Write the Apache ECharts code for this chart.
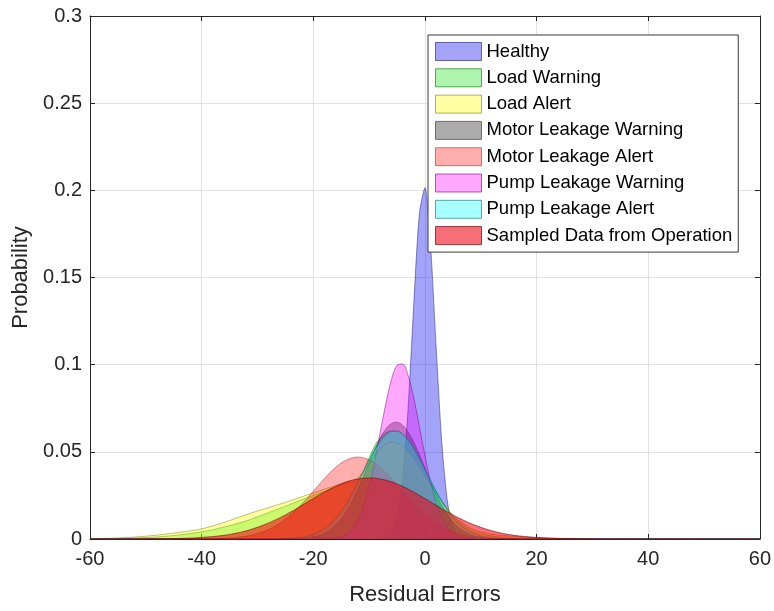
<!DOCTYPE html>
<html>
<head>
<meta charset="utf-8">
<script src="https://cdn.jsdelivr.net/npm/echarts@6/dist/echarts.min.js"></script>
<style>
  html, body { margin: 0; padding: 0; background: #ffffff; }
  #chart { width: 774px; height: 611px; }
</style>
</head>
<body>
<div id="chart"></div>
<script>
// Residual error values where each density curve is sampled
const residuals = [-60, -55, -50, -45, -40, -36, -32, -28, -25, -22,
                   -20, -18, -16, -14, -12, -10, -9, -8, -7, -6,
                   -5, -4, -3, -2, -1, 0, 1, 2, 3, 4,
                   5, 6, 8, 10, 12, 14, 16, 18, 20, 24,
                   28, 32, 36, 40, 50, 60];

const healthy = [0, 0, 0, 0, 0, 0, 0, 0, 0, 0,
                 0, 0, 0, 0, 0, 0, 0, 0.0001, 0.0006, 0.0030,
                 0.0113, 0.0332, 0.0758, 0.1347, 0.1865, 0.2015, 0.1687, 0.1103, 0.0562, 0.0222,
                 0.0069, 0.0017, 0.0001, 0, 0, 0, 0, 0, 0, 0,
                 0, 0, 0, 0, 0, 0];

const loadWarning = [0.0001, 0.0003, 0.0008, 0.0020, 0.0041, 0.0068, 0.0104, 0.0152, 0.0188, 0.0226,
                     0.0250, 0.0274, 0.0298, 0.0320, 0.0340, 0.0465, 0.0535, 0.0580, 0.0608, 0.0620,
                     0.0618, 0.0600, 0.0565, 0.0515, 0.0455, 0.0392, 0.0330, 0.0272, 0.0220, 0.0172,
                     0.0132, 0.0100, 0.0055, 0.0030, 0.0017, 0.0010, 0.0006, 0.0004, 0.0003, 0.0001,
                     0, 0, 0, 0, 0, 0];

const loadAlert = [0.0002, 0.0006, 0.0016, 0.0034, 0.0058, 0.0095, 0.0140, 0.0180, 0.0210, 0.0243,
                   0.0264, 0.0286, 0.0306, 0.0328, 0.0352, 0.0430, 0.0480, 0.0520, 0.0545, 0.0555,
                   0.0550, 0.0532, 0.0502, 0.0462, 0.0415, 0.0362, 0.0310, 0.0260, 0.0213, 0.0172,
                   0.0137, 0.0108, 0.0065, 0.0040, 0.0027, 0.0020, 0.0015, 0.0011, 0.0008, 0.0004,
                   0.0002, 0.0001, 0, 0, 0, 0];

const motorLeakWarning = [0, 0, 0, 0, 0, 0, 0, 0, 0, 0.0004,
                          0.0012, 0.0032, 0.0078, 0.0160, 0.0285, 0.0438, 0.0513, 0.0580, 0.0631, 0.0662,
                          0.0670, 0.0652, 0.0613, 0.0555, 0.0484, 0.0406, 0.0329, 0.0257, 0.0193, 0.0140,
                          0.0098, 0.0066, 0.0027, 0.0009, 0.0003, 0.0001, 0, 0, 0, 0,
                          0, 0, 0, 0, 0, 0];

const motorLeakAlert = [0, 0, 0, 0, 0.0001, 0.0004, 0.0016, 0.0054, 0.0113, 0.0202,
                        0.0274, 0.0347, 0.0411, 0.0454, 0.0470, 0.0454, 0.0436, 0.0411, 0.0381, 0.0347,
                        0.0311, 0.0274, 0.0237, 0.0202, 0.0169, 0.0140, 0.0113, 0.0090, 0.0071, 0.0054,
                        0.0041, 0.0031, 0.0016, 0.0008, 0.0004, 0.0002, 0.0001, 0, 0, 0,
                        0, 0, 0, 0, 0, 0];

const pumpLeakWarning = [0, 0, 0, 0, 0, 0, 0, 0, 0, 0,
                         0, 0.0001, 0.0006, 0.0029, 0.0109, 0.0301, 0.0447, 0.0613, 0.0778, 0.0915,
                         0.0996, 0.1004, 0.0936, 0.0809, 0.0647, 0.0479, 0.0328, 0.0208, 0.0122, 0.0066,
                         0.0033, 0.0016, 0.0003, 0, 0, 0, 0, 0, 0, 0,
                         0, 0, 0, 0, 0, 0];

const pumpLeakAlert = [0, 0, 0, 0, 0, 0, 0, 0, 0.0002, 0.0010,
                       0.0026, 0.0059, 0.0117, 0.0207, 0.0325, 0.0453, 0.0511, 0.0561, 0.0597, 0.0617,
                       0.0619, 0.0602, 0.0569, 0.0522, 0.0465, 0.0402, 0.0337, 0.0275, 0.0217, 0.0167,
                       0.0124, 0.0090, 0.0043, 0.0018, 0.0007, 0.0002, 0.0001, 0, 0, 0,
                       0, 0, 0, 0, 0, 0];

const sampledOperation = [0, 0, 0.0001, 0.0002, 0.0009, 0.0021, 0.0047, 0.0092, 0.0138, 0.0193,
                          0.0232, 0.0269, 0.0302, 0.0328, 0.0344, 0.0350, 0.0349, 0.0344, 0.0337, 0.0328,
                          0.0316, 0.0302, 0.0286, 0.0269, 0.0250, 0.0232, 0.0212, 0.0193, 0.0174, 0.0156,
                          0.0138, 0.0122, 0.0092, 0.0067, 0.0047, 0.0032, 0.0021, 0.0014, 0.0009, 0.0003,
                          0.0001, 0, 0, 0, 0, 0];

const seriesNames = ['Healthy', 'Load Warning', 'Load Alert', 'Motor Leakage Warning',
                     'Motor Leakage Alert', 'Pump Leakage Warning', 'Pump Leakage Alert',
                     'Sampled Data from Operation'];
const seriesValues = [healthy, loadWarning, loadAlert, motorLeakWarning,
                      motorLeakAlert, pumpLeakWarning, pumpLeakAlert, sampledOperation];

// Translucent fills and their darker outlines
const fills = ['rgba(0,0,240,0.36)', 'rgba(0,220,0,0.32)', 'rgba(255,255,0,0.36)', 'rgba(0,0,0,0.33)',
               'rgba(255,0,0,0.32)', 'rgba(255,0,255,0.35)', 'rgba(0,255,255,0.34)', 'rgba(240,0,15,0.57)'];
const edges = ['rgba(20,20,120,0.6)', 'rgba(0,110,0,0.6)', 'rgba(120,120,0,0.6)', 'rgba(40,40,40,0.6)',
               'rgba(140,40,40,0.55)', 'rgba(120,0,120,0.6)', 'rgba(0,110,110,0.6)', 'rgba(110,0,0,0.7)'];

const FONT = '"Liberation Sans", Arial, Helvetica, sans-serif';
const INK = '#262626';

const chart = echarts.init(document.getElementById('chart'), null, { renderer: 'canvas' });

const axisCommon = {
  axisLine: { show: true, onZero: false, lineStyle: { color: INK, width: 1 } },
  axisTick: { show: true, inside: true, length: 5, lineStyle: { color: INK } }
};

chart.setOption({
  animation: false,
  backgroundColor: '#ffffff',
  grid: { left: 90, right: 12, top: 16, bottom: 66 },
  xAxis: [
    Object.assign({
      type: 'value', min: -60, max: 60, interval: 20, position: 'bottom',
      name: 'Residual Errors', nameLocation: 'middle', nameGap: 45,
      nameTextStyle: { fontSize: 22, color: INK, fontFamily: FONT },
      axisLabel: { fontSize: 20, color: INK, margin: 10, fontFamily: FONT },
      splitLine: { show: true, lineStyle: { color: '#e2e2e2', width: 1 } }
    }, axisCommon),
    Object.assign({
      type: 'value', min: -60, max: 60, interval: 20, position: 'top',
      axisLabel: { show: false }, splitLine: { show: false }
    }, axisCommon)
  ],
  yAxis: [
    Object.assign({
      type: 'value', min: 0, max: 0.3, interval: 0.05, position: 'left',
      name: 'Probability', nameLocation: 'middle', nameGap: 56,
      nameTextStyle: { fontSize: 22, color: INK, fontFamily: FONT },
      axisLabel: { fontSize: 20, color: INK, margin: 8, fontFamily: FONT },
      splitLine: { show: true, lineStyle: { color: '#e2e2e2', width: 1 } }
    }, axisCommon),
    Object.assign({
      type: 'value', min: 0, max: 0.3, interval: 0.05, position: 'right',
      axisLabel: { show: false }, splitLine: { show: false }
    }, axisCommon)
  ],
  legend: {
    orient: 'vertical',
    left: 428, top: 35,
    padding: [7, 6, 7, 7],
    itemGap: 7.3,
    itemWidth: 46, itemHeight: 18,
    icon: 'rect',
    backgroundColor: '#ffffff',
    borderColor: '#3a3a3a', borderWidth: 1,
    textStyle: { fontSize: 18.5, color: '#000000', fontFamily: FONT },
    data: seriesNames.map((n, i) => ({
      name: n,
      itemStyle: { color: fills[i], borderColor: edges[i], borderWidth: 1 }
    }))
  },
  series: seriesNames.map((n, i) => ({
    name: n,
    type: 'line',
    xAxisIndex: 0, yAxisIndex: 0,
    data: residuals.map((x, k) => [x, seriesValues[i][k]]),
    smooth: i === 0 ? 0.25 : 0.35,
    showSymbol: false,
    symbol: 'none',
    lineStyle: { color: edges[i], width: 0.8 },
    itemStyle: { color: fills[i] },
    areaStyle: { color: fills[i], opacity: 1 },
    emphasis: { disabled: true },
    z: 2 + i * 0.01
  }))
});
</script>
</body>
</html>
